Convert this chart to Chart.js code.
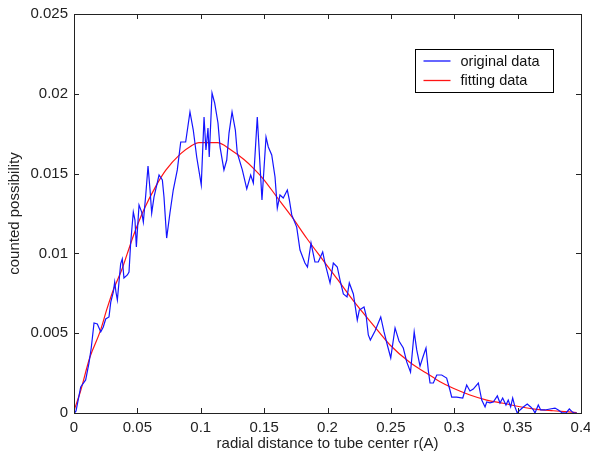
<!DOCTYPE html>
<html>
<head>
<meta charset="utf-8">
<script src="https://cdn.jsdelivr.net/npm/chart.js@4.4.1/dist/chart.umd.min.js"></script>
<style>
  html, body { margin: 0; padding: 0; background: #fff; }
</style>
</head>
<body>
<canvas id="myCanvas" width="590" height="456"></canvas>
<script>
// values
const originalX = [0.0004, 0.0016, 0.0053, 0.0092, 0.0118, 0.0136, 0.0158, 0.0184, 0.0211, 0.0231,
  0.0250, 0.0276, 0.0290, 0.0310, 0.0321, 0.0331, 0.0342, 0.0355, 0.0368, 0.0381,
  0.0394, 0.0421, 0.0434, 0.0447, 0.0468, 0.0481, 0.0492, 0.0513, 0.0534, 0.0547,
  0.0566, 0.0584, 0.0600, 0.0613, 0.0631, 0.0671, 0.0697, 0.0710, 0.0731, 0.0757,
  0.0783, 0.0815, 0.0842, 0.0881, 0.0915, 0.0941, 0.0968, 0.1004, 0.1026, 0.1041,
  0.1057, 0.1067, 0.1089, 0.1110, 0.1136, 0.1152, 0.1183, 0.1205, 0.1223, 0.1247,
  0.1273, 0.1288, 0.1328, 0.1363, 0.1394, 0.1415, 0.1446, 0.1483, 0.1515, 0.1533,
  0.1560, 0.1586, 0.1604, 0.1625, 0.1651, 0.1683, 0.1699, 0.1718, 0.1757, 0.1783,
  0.1822, 0.1842, 0.1870, 0.1901, 0.1927, 0.1962, 0.1980, 0.2020, 0.2046, 0.2077,
  0.2099, 0.2125, 0.2154, 0.2172, 0.2204, 0.2235, 0.2251, 0.2288, 0.2304, 0.2322,
  0.2338, 0.2375, 0.2420, 0.2446, 0.2472, 0.2499, 0.2533, 0.2564, 0.2598, 0.2625,
  0.2655, 0.2684, 0.2704, 0.2730, 0.2753, 0.2777, 0.2795, 0.2809, 0.2835, 0.2862,
  0.2901, 0.2940, 0.2966, 0.2980, 0.3019, 0.3067, 0.3098, 0.3124, 0.3150, 0.3190,
  0.3217, 0.3243, 0.3256, 0.3282, 0.3308, 0.3340, 0.3361, 0.3382, 0.3408, 0.3426,
  0.3445, 0.3461, 0.3479, 0.3497, 0.3519, 0.3545, 0.3576, 0.3603, 0.3624, 0.3637,
  0.3663, 0.3682, 0.3716, 0.3755, 0.3795, 0.3821, 0.3848, 0.3882, 0.3908, 0.3927,
  0.3945, 0.3968];
const originalY = [0, 0.00013, 0.00163, 0.00207, 0.00313, 0.00407, 0.00564, 0.00558, 0.00508, 0.00539,
  0.00589, 0.00602, 0.00695, 0.00758, 0.00821, 0.00758, 0.00708, 0.00821, 0.00934, 0.00965,
  0.00846, 0.00865, 0.00883, 0.01065, 0.01259, 0.01209, 0.0104, 0.01303, 0.01259, 0.01197,
  0.01366, 0.01548, 0.01397, 0.01253, 0.01353, 0.01491, 0.0146, 0.01353, 0.01096, 0.01253,
  0.01397, 0.01523, 0.01698, 0.01698, 0.01886, 0.01773, 0.01604, 0.01429, 0.01855, 0.01648,
  0.01786, 0.01604, 0.02005, 0.01942, 0.01817, 0.01667, 0.01523, 0.01585, 0.01754, 0.01886,
  0.01773, 0.01629, 0.01523, 0.01404, 0.01491, 0.01441, 0.01855, 0.01335, 0.01729, 0.01667,
  0.01617, 0.01479, 0.01284, 0.01366, 0.01347, 0.01397, 0.01335, 0.01241, 0.01165, 0.01021,
  0.0094, 0.00915, 0.01065, 0.00946, 0.00946, 0.01009, 0.0094, 0.00815, 0.0094, 0.00915,
  0.00833, 0.00746, 0.00727, 0.00815, 0.00746, 0.00583, 0.00645, 0.00664, 0.00614, 0.00489,
  0.00457, 0.00514, 0.00602, 0.00508, 0.00426, 0.00345, 0.00533, 0.00451, 0.00407, 0.0032,
  0.00257, 0.00508, 0.00395, 0.00294, 0.00351, 0.00407, 0.00269, 0.00188, 0.00188, 0.00238,
  0.00238, 0.00219, 0.00144, 0.001, 0.001, 0.00094, 0.00175, 0.00138, 0.0015, 0.00188,
  0.00081, 0.00038, 0.00069, 0.00063, 0.00069, 0.00107, 0.00063, 0.00094, 0.0005, 0.00081,
  0.00038, 0.00094, 0.00038, 0, 0.00019, 0.00038, 0.00056, 0.00038, 0.00019, 0,
  0.0005, 0.00019, 0.00019, 0.00025, 0.00031, 0.00019, 0.00003, 0, 0.00025, 0.0001,
  0, 0];
const fittingX = [0.0004, 0.0047, 0.0126, 0.0205, 0.0260, 0.0310, 0.0376, 0.0421, 0.0473, 0.0552,
  0.0645, 0.0723, 0.0842, 0.0921, 0.0986, 0.1131, 0.1236, 0.1341, 0.1420, 0.1494,
  0.1599, 0.1718, 0.1836, 0.1954, 0.2073, 0.2230, 0.2361, 0.2493, 0.2651, 0.2783,
  0.2888, 0.2992, 0.3124, 0.3256, 0.3387, 0.3519, 0.3650, 0.3781, 0.3966];
const fittingY = [0.00025, 0.00125, 0.00351, 0.00508, 0.00652, 0.00771, 0.00896, 0.01000, 0.01120, 0.01275,
  0.01420, 0.01520, 0.01625, 0.01672, 0.01694, 0.01694, 0.01650, 0.01588, 0.01530, 0.01466,
  0.01355, 0.0123, 0.01095, 0.00969, 0.00844, 0.00677, 0.00551, 0.00426, 0.00316, 0.00249,
  0.00196, 0.00155, 0.00113, 0.00081, 0.00061, 0.00039, 0.00023, 0.00014, 0.00003];
const seriesLabels = ['original data', 'fitting data'];
const seriesColors = ['#1414ff', '#ff1414'];
const xTicks = [0, 0.05, 0.1, 0.15, 0.2, 0.25, 0.3, 0.35, 0.4];
const xTickLabels = ['0', '0.05', '0.1', '0.15', '0.2', '0.25', '0.3', '0.35', '0.4'];
const yTicks = [0, 0.005, 0.01, 0.015, 0.02, 0.025];
const yTickLabels = ['0', '0.005', '0.01', '0.015', '0.02', '0.025'];
const xTitle = 'radial distance to tube center r(A)';
const yTitle = 'counted possibility';

const FONT = 'Liberation Sans, Arial, sans-serif';
const AXIS = '#222';

// MATLAB-like frame with inward ticks on all four sides
const frameTicks = {
  id: 'frameTicks',
  afterDatasetsDraw(chart) {
    const { ctx, chartArea: a, scales } = chart;
    ctx.save();
    ctx.strokeStyle = AXIS;
    ctx.lineWidth = 1;
    ctx.beginPath();
    scales.x.ticks.forEach(t => {
      const px = Math.round(scales.x.getPixelForValue(t.value)) + 0.5;
      ctx.moveTo(px, a.bottom); ctx.lineTo(px, a.bottom - 5);
      ctx.moveTo(px, a.top); ctx.lineTo(px, a.top + 5);
    });
    scales.y.ticks.forEach(t => {
      const py = Math.round(scales.y.getPixelForValue(t.value)) + 0.5;
      ctx.moveTo(a.left, py); ctx.lineTo(a.left + 5, py);
      ctx.moveTo(a.right, py); ctx.lineTo(a.right - 5, py);
    });
    ctx.stroke();
    ctx.strokeRect(Math.round(a.left) + 0.5, Math.round(a.top) + 0.5,
      Math.round(a.right - a.left), Math.round(a.bottom - a.top));
    ctx.restore();
  }
};

// legend box inside the plot, upper right
const boxLegend = {
  id: 'boxLegend',
  afterDraw(chart) {
    const { ctx } = chart;
    const x0 = 415.5, y0 = 49.5, w = 138, h = 43;
    ctx.save();
    ctx.fillStyle = '#fff';
    ctx.fillRect(x0, y0, w, h);
    ctx.strokeStyle = '#000';
    ctx.lineWidth = 1;
    ctx.strokeRect(x0, y0, w, h);
    ctx.font = '14.5px ' + FONT;
    ctx.textBaseline = 'middle';
    chart.data.datasets.forEach((ds, i) => {
      const y = y0 + 11.5 + i * 19.5;
      ctx.strokeStyle = seriesColors[i];
      ctx.lineWidth = 1.3;
      ctx.beginPath();
      ctx.moveTo(x0 + 8, y);
      ctx.lineTo(x0 + 35, y);
      ctx.stroke();
      ctx.fillStyle = '#111';
      ctx.fillText(ds.label, x0 + 45, y + 0.5);
    });
    ctx.restore();
  }
};

const ctx = document.getElementById('myCanvas').getContext('2d');
const chart = new Chart(ctx, {
  type: 'scatter',
  data: {
    datasets: [{
      label: seriesLabels[0],
      data: originalX.map((x, i) => ({ x: x, y: originalY[i] })),
      borderColor: seriesColors[0],
      borderWidth: 1.2,
      pointRadius: 0,
      showLine: true,
      tension: 0
    }, {
      label: seriesLabels[1],
      data: fittingX.map((x, i) => ({ x: x, y: fittingY[i] })),
      borderColor: seriesColors[1],
      borderWidth: 1.2,
      pointRadius: 0,
      showLine: true,
      cubicInterpolationMode: 'monotone'
    }]
  },
  options: {
    responsive: false,
    animation: false,
    devicePixelRatio: 1,
    layout: { padding: { top: 14, right: 9, left: 0, bottom: 0 } },
    plugins: {
      legend: { display: false },
      tooltip: { enabled: false }
    },
    scales: {
      x: {
        type: 'linear',
        min: 0,
        max: 0.4,
        afterBuildTicks: s => { s.ticks = xTicks.map(v => ({ value: v })); },
        afterFit: s => { s.height = 43; s.paddingLeft = 0; s.paddingRight = 0; },
        grid: { display: false, drawTicks: false },
        border: { display: false },
        ticks: {
          color: AXIS,
          padding: 6,
          maxRotation: 0,
          autoSkip: false,
          font: { family: FONT, size: 15 },
          callback: (v, i) => xTickLabels[i]
        },
        title: {
          display: true,
          text: xTitle,
          color: AXIS,
          font: { family: FONT, size: 15 },
          padding: { top: 0, bottom: 3 }
        }
      },
      y: {
        type: 'linear',
        min: 0,
        max: 0.025,
        afterBuildTicks: s => { s.ticks = yTicks.map(v => ({ value: v })); },
        afterFit: s => { s.width = 74; s.paddingTop = 0; s.paddingBottom = 0; },
        grid: { display: false, drawTicks: false },
        border: { display: false },
        ticks: {
          color: AXIS,
          padding: 6,
          autoSkip: false,
          font: { family: FONT, size: 15 },
          callback: (v, i) => yTickLabels[i]
        },
        title: {
          display: true,
          text: yTitle,
          color: AXIS,
          font: { family: FONT, size: 15 },
          padding: { top: 6, bottom: 0 }
        }
      }
    }
  },
  plugins: [frameTicks, boxLegend]
});
</script>
</body>
</html>
